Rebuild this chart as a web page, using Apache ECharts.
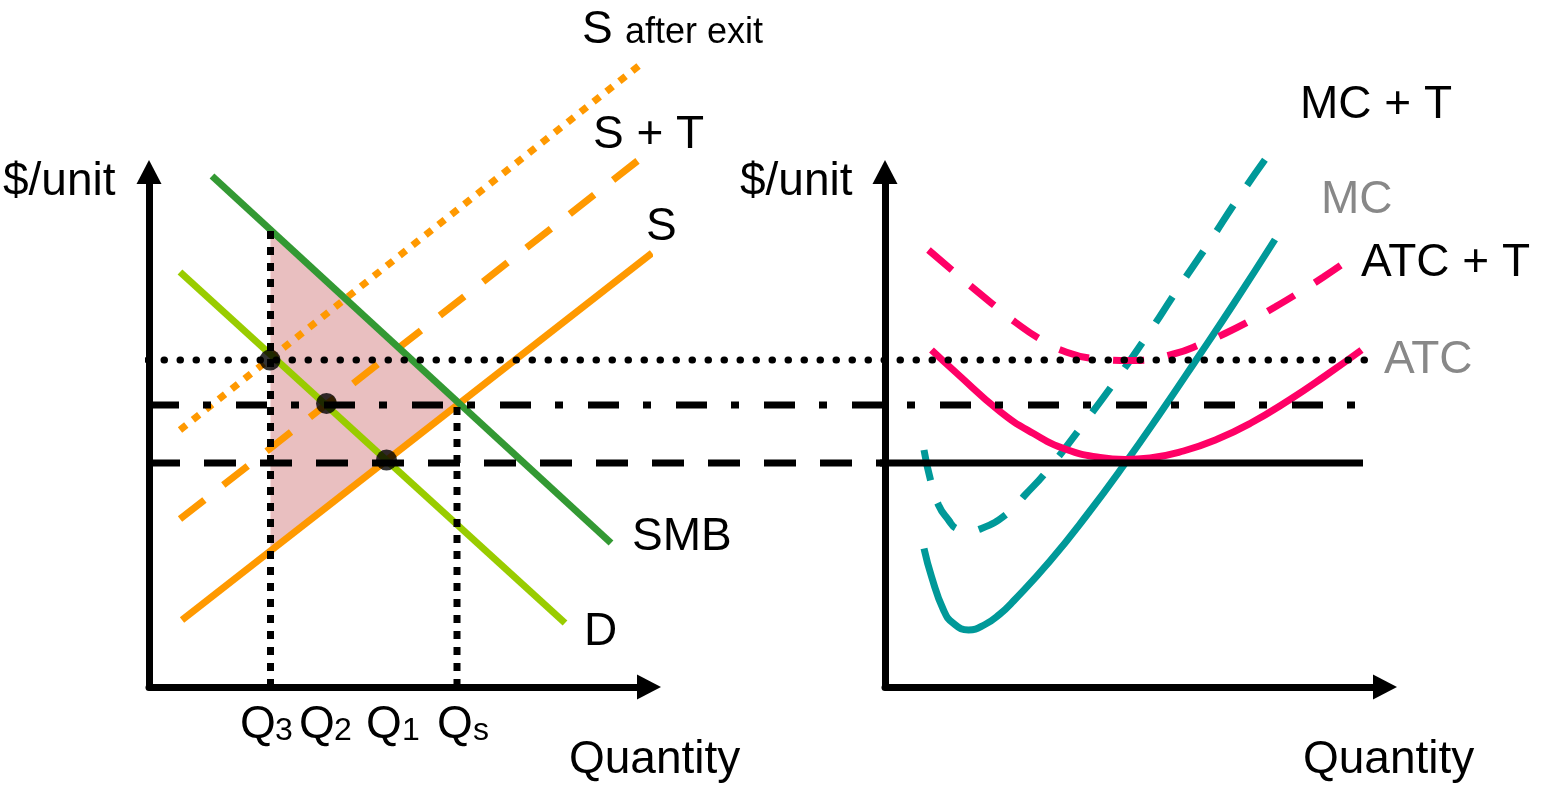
<!DOCTYPE html>
<html>
<head>
<meta charset="utf-8">
<script src="https://cdn.jsdelivr.net/npm/echarts/dist/echarts.min.js"></script>
<style>
  html, body { margin: 0; padding: 0; background: #fff; }
  #chart { width: 1546px; height: 786px; }
</style>
</head>
<body>
<div id="chart"></div>
<script>
// left panel (market): straight lines as end points
const smbX = [1.26, 9.24], smbY = [10.22, 2.88]
const demX = [0.62, 8.32], demY = [8.3, 1.28]
const supX = [0.66, 10.06], supY = [1.34, 8.68]
const supTaxX = [0.62, 9.92], supTaxY = [3.36, 10.64]
const supExitX = [0.62, 9.84], supExitY = [5.14, 12.46]

// price levels (dotted, dash-dot, dashed) spanning both panels
const priceLevels = [6.54, 5.64, 4.48]
const levelEnds = [24.32, 24.18, 14.66]
// solid part of the lowest level inside the firm panel
const firmLineX = [14.62, 24.28]

// quantities Q3 and Qs, with the height of their drop lines
const dropX = [2.43, 6.16], dropTop = [9.15, 5.64]

// equilibrium dots
const dotX = [2.42, 3.55, 4.75], dotY = [6.54, 5.67, 4.54]

// shaded triangle
const triX = [2.43, 6.16, 2.43], triY = [9.15, 5.64, 2.7]

// right panel (firm): cost curves
const mcX = [0.78, 0.93, 1.17, 1.36, 1.67, 2.0, 2.3, 2.57, 3.3, 4.03, 4.8, 5.5, 6.23, 6.97, 7.8]
const mcY = [2.77, 2.21, 1.54, 1.28, 1.14, 1.25, 1.46, 1.72, 2.52, 3.43, 4.47, 5.47, 6.55, 7.66, 8.95]
const mctX = [0.78, 0.91, 1.07, 1.27, 1.43, 1.66, 1.93, 2.46, 2.8, 3.23, 3.93, 4.6, 5.23, 5.83, 6.47, 7.1, 7.74]
const mctY = [4.74, 4.14, 3.64, 3.34, 3.17, 3.12, 3.17, 3.48, 3.84, 4.31, 5.21, 6.11, 7.01, 7.92, 8.87, 9.83, 10.74]
const atcX = [0.93, 1.43, 2.3, 2.97, 3.63, 4.3, 4.8, 5.3, 5.97, 6.63, 7.3, 8.1, 8.8, 9.53]
const atcY = [6.74, 6.28, 5.51, 5.07, 4.75, 4.59, 4.55, 4.58, 4.72, 4.95, 5.27, 5.75, 6.22, 6.74]
const atctX = [0.87, 1.37, 1.7, 2.2, 2.6, 3.13, 3.57, 4.17, 4.96, 5.77, 6.37, 6.8, 7.37, 7.8, 8.33, 8.77, 9.27]
const atctY = [8.74, 8.31, 8.03, 7.62, 7.3, 6.94, 6.72, 6.57, 6.53, 6.66, 6.88, 7.07, 7.36, 7.6, 7.92, 8.2, 8.54]

const zip = (xs, ys) => xs.map((x, i) => [x, ys[i]])
const FONT = '"Liberation Sans", Arial, sans-serif'

function lineSeries(grid, data, color, width, type, smooth, z) {
  return {
    type: 'line',
    xAxisIndex: grid,
    yAxisIndex: grid,
    data: data,
    showSymbol: false,
    symbol: 'none',
    smooth: smooth || false,
    clip: false,
    silent: true,
    z: z || 3,
    lineStyle: {color: color, width: width, type: type || 'solid', cap: 'butt'}
  }
}

function axisPair(grid, xMax, visible) {
  const line = {
    show: visible,
    symbol: ['none', 'triangle'],
    symbolSize: [25, 24],
    lineStyle: {color: '#000', width: 7}
  }
  const common = {axisLine: line, axisTick: {show: false}, axisLabel: {show: false}, splitLine: {show: false}}
  return {
    x: Object.assign({type: 'value', gridIndex: grid, min: 0, max: xMax}, common),
    y: Object.assign({type: 'value', gridIndex: grid, min: 0, max: 10.3}, common)
  }
}

const leftAxes = axisPair(0, 10, true)
const rightAxes = axisPair(1, 10, true)
const wideAxes = axisPair(2, 24.72, false)

function label(text, x, y, size, color) {
  return {
    type: 'text', x: x, y: y, silent: true,
    style: {text: text, font: size + 'px ' + FONT, fill: color || '#000', align: 'left', verticalAlign: 'middle'}
  }
}

const chart = echarts.init(document.getElementById('chart'), null, {renderer: 'canvas'})

const dotted = lineSeries(2, [[-0.02, priceLevels[0]], [levelEnds[0], priceLevels[0]]], '#000', 7, [0.5, 15.5], false, 5)
// round caps turn the tiny dashes into dots
dotted.lineStyle.cap = 'round'

const series = [
  {
    type: 'custom',
    xAxisIndex: 0,
    yAxisIndex: 0,
    data: [[0, 0]],
    silent: true,
    z: 1,
    renderItem: function (params, api) {
      const pts = triX.map((x, i) => api.coord([x, triY[i]]))
      return {type: 'polygon', shape: {points: pts}, style: {fill: '#e9bfc0'}}
    }
  },
  lineSeries(0, zip(supExitX, supExitY), '#ff9900', 7, [8, 8.5]),
  lineSeries(0, zip(supTaxX, supTaxY), '#ff9900', 7, [31, 24]),
  lineSeries(0, zip(supX, supY), '#ff9900', 7),
  lineSeries(0, zip(demX, demY), '#99cc00', 7),
  lineSeries(0, zip(smbX, smbY), '#339933', 7),
  lineSeries(1, zip(mctX, mctY), '#009999', 7, [31, 24], 0.5),
  lineSeries(1, zip(mcX, mcY), '#009999', 7, 'solid', 0.5),
  lineSeries(1, zip(atctX, atctY), '#ff0066', 7, [31, 24], 0.5),
  lineSeries(1, zip(atcX, atcY), '#ff0066', 7, 'solid', 0.5),
  lineSeries(2, [[firmLineX[0], priceLevels[2]], [firmLineX[1], priceLevels[2]]], '#000', 7, 'solid', false, 4),
  dotted,
  lineSeries(2, [[-0.02, priceLevels[1]], [levelEnds[1], priceLevels[1]]], '#000', 7, [31, 24, 8, 25], false, 5),
  lineSeries(2, [[-0.02, priceLevels[2]], [levelEnds[2], priceLevels[2]]], '#000', 7, [32, 24], false, 5),
  lineSeries(0, [[dropX[0], 0], [dropX[0], dropTop[0]]], '#000', 7, [8, 8], false, 5),
  lineSeries(0, [[dropX[1], 0], [dropX[1], dropTop[1]]], '#000', 7, [8, 8], false, 5),
  {
    type: 'scatter',
    xAxisIndex: 0,
    yAxisIndex: 0,
    data: zip(dotX, dotY),
    symbol: 'circle',
    symbolSize: 21,
    silent: true,
    z: 6,
    itemStyle: {color: '#000'}
  }
]

chart.setOption({
  animation: false,
  backgroundColor: '#fff',
  grid: [
    {left: 149, top: 172, width: 500, height: 515},
    {left: 885, top: 172, width: 500, height: 515},
    {left: 149, top: 172, width: 1236, height: 515}
  ],
  xAxis: [leftAxes.x, rightAxes.x, wideAxes.x],
  yAxis: [leftAxes.y, rightAxes.y, wideAxes.y],
  series: series,
  graphic: [
    label('$/unit', 3, 182, 46),
    label('$/unit', 740, 182, 46),
    label('S', 582, 30, 46),
    label('after exit', 625, 33, 36),
    label('S + T', 593, 135, 46),
    label('S', 646, 227, 46),
    label('SMB', 632, 537, 46),
    label('D', 584, 632, 46),
    label('Q', 240, 725, 46), label('3', 275, 731, 32),
    label('Q', 299, 725, 46), label('2', 334, 731, 32),
    label('Q', 366, 725, 46), label('1', 402, 731, 32),
    label('Q', 437, 725, 46), label('s', 473, 731, 32),
    label('Quantity', 569, 760, 46),
    label('MC + T', 1300, 105, 46),
    label('MC', 1321, 200, 46, '#888888'),
    label('ATC + T', 1361, 263, 46),
    label('ATC', 1384, 360, 46, '#888888'),
    label('Quantity', 1303, 760, 46)
  ]
})
</script>
</body>
</html>
